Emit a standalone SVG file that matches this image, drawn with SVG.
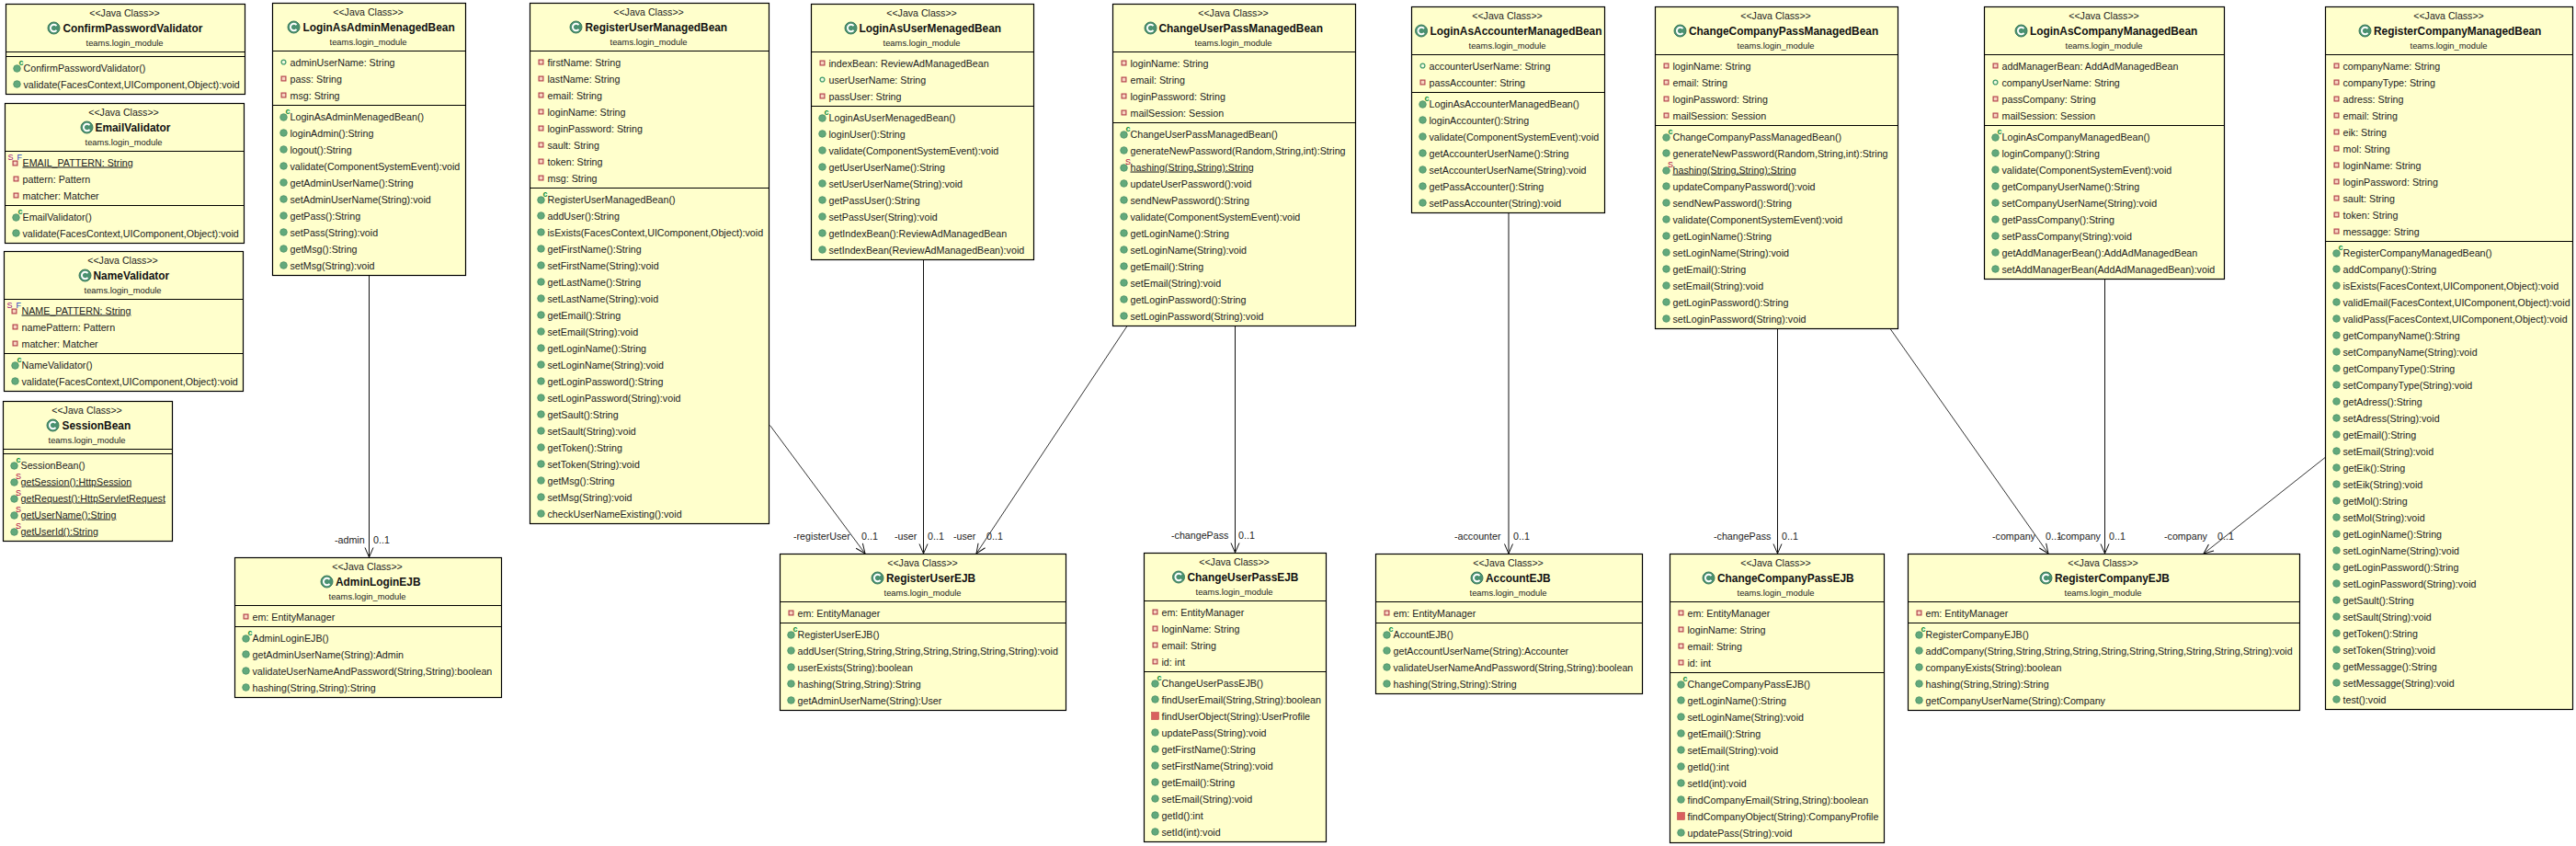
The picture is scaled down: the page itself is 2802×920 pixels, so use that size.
<svg xmlns="http://www.w3.org/2000/svg" width="2802" height="920" viewBox="0 0 2802 920">
<style>
text{font-family:"Liberation Sans",Arial,sans-serif;font-size:10.7px;fill:#222}
.b{fill:#ffffcc;stroke:#000;stroke-width:1.2}
.l{stroke:#000;stroke-width:1;fill:none}
.s{text-anchor:middle;font-size:10.6px}
.pk{text-anchor:middle;font-size:9.4px}
.t{font-size:11.9px;font-weight:bold;fill:#111}
.u{text-decoration:underline}
.sup{font-size:9px;font-weight:bold}
.c{stroke:#111;stroke-width:1;fill:none}
.d{stroke:#333;stroke-width:1;fill:none}
</style>
<defs>
<marker id="open" markerUnits="userSpaceOnUse" markerWidth="13" markerHeight="12" refX="11.5" refY="6" orient="auto"><path d="M1 1.5L11.5 6L1 10.5" fill="none" stroke="#111"/></marker>
<g id="ti"><circle r="6.5" fill="#4a9170" stroke="#3b7a5c"/><path d="M3 -2.3A3.7 3.7 0 1 0 3 2.3" fill="none" stroke="#fff" stroke-width="1.9"/></g>
<circle id="m" r="3.8" fill="#62a97c" stroke="#4a8f66" stroke-width=".8"/>
<circle id="f" r="2.4" fill="#f4fbe0" stroke="#3f9a6c" stroke-width="1.3"/>
<rect id="p" x="-2.4" y="-2.4" width="4.8" height="4.8" fill="#f6d5c0" stroke="#b5454f" stroke-width="1.2"/>
<rect id="pm" x="-4" y="-4" width="8" height="8" fill="#d9605f" stroke="#c04a4a" stroke-width=".6"/>
<g id="k"><use href="#m" y="1"/><text class="sup" x="2" y="-3" style="fill:#0a8c3c">c</text></g>
<g id="st"><use href="#m" y="1"/><text class="sup" x="1.5" y="-3" style="fill:#b00b40;font-weight:normal">S</text></g>
<g id="sf"><use href="#p" x="-1" y="1"/><text class="sup" x="-9" y="-3" style="fill:#a0107a;font-weight:normal">S</text><text class="sup" x="1" y="-3" style="fill:#2040c0;font-weight:normal">F</text></g>
</defs>
<rect width="2802" height="920" fill="#fff"/>
<g id="connectors">
<path class="c" marker-end="url(#open)" d="M401.5 299V606"/>
<path class="d" marker-end="url(#open)" d="M837.5 462.5L941 602"/>
<path class="c" marker-end="url(#open)" d="M1004.5 282V602"/>
<path class="d" marker-end="url(#open)" d="M1225.7 355L1062 602"/>
<path class="c" marker-end="url(#open)" d="M1343.5 354V601"/>
<path class="c" marker-end="url(#open)" d="M1641 231V602"/>
<path class="c" marker-end="url(#open)" d="M1933.5 357V602"/>
<path class="d" marker-end="url(#open)" d="M2056.4 358L2228 602"/>
<path class="c" marker-end="url(#open)" d="M2289.5 303V602"/>
<path class="d" marker-end="url(#open)" d="M2529 497.6L2397 602"/>
<text x="364" y="591">-admin</text><text x="406" y="591">0..1</text>
<text x="863" y="587">-registerUser</text><text x="937" y="587">0..1</text>
<text x="973" y="587">-user</text><text x="1009" y="587">0..1</text>
<text x="1037" y="587">-user</text><text x="1073" y="587">0..1</text>
<text x="1274" y="586">-changePass</text><text x="1347" y="586">0..1</text>
<text x="1582" y="587">-accounter</text><text x="1646" y="587">0..1</text>
<text x="1864" y="587">-changePass</text><text x="1938" y="587">0..1</text>
<text x="2167" y="587">-company</text><text x="2225" y="587">0..1</text>
<text x="2238" y="587">-company</text><text x="2294" y="587">0..1</text>
<text x="2354" y="587">-company</text><text x="2412" y="587">0..1</text>
</g>

<g id="ConfirmPasswordValidator" transform="translate(6.5,4.5)"><rect class="b" width="260" height="98"/><path class="l" d="M0 52H260M0 57H260"/>
<text class="s" x="129" y="13.5">&lt;&lt;Java Class&gt;&gt;</text><use href="#ti" x="52" y="26"/><text class="t" x="62" y="30">ConfirmPasswordValidator</text><text class="pk" x="129" y="45.5">teams.login_module</text>
<g transform="translate(12,0)"><use href="#k" y="69"/><use href="#m" y="87"/></g>
<g transform="translate(19,0)"><text y="73">ConfirmPasswordValidator()</text><text y="91">validate(FacesContext,UIComponent,Object):void</text></g></g>

<g id="EmailValidator" transform="translate(5.5,112.5)"><rect class="b" width="260" height="152"/><path class="l" d="M0 52H260M0 111H260"/>
<text class="s" x="129" y="13.5">&lt;&lt;Java Class&gt;&gt;</text><use href="#ti" x="89" y="26"/><text class="t" x="98" y="30">EmailValidator</text><text class="pk" x="129" y="45.5">teams.login_module</text>
<g transform="translate(12,0)"><use href="#sf" y="64"/><use href="#p" y="82"/><use href="#p" y="100"/><use href="#k" y="123"/><use href="#m" y="141"/></g>
<g transform="translate(19,0)"><text class="u" y="68">EMAIL_PATTERN: String</text><text y="86">pattern: Pattern</text><text y="104">matcher: Matcher</text><text y="127">EmailValidator()</text><text y="145">validate(FacesContext,UIComponent,Object):void</text></g></g>

<g id="NameValidator" transform="translate(4.5,273.5)"><rect class="b" width="260" height="152"/><path class="l" d="M0 52H260M0 111H260"/>
<text class="s" x="129" y="13.5">&lt;&lt;Java Class&gt;&gt;</text><use href="#ti" x="88" y="26"/><text class="t" x="97" y="30">NameValidator</text><text class="pk" x="129" y="45.5">teams.login_module</text>
<g transform="translate(12,0)"><use href="#sf" y="64"/><use href="#p" y="82"/><use href="#p" y="100"/><use href="#k" y="123"/><use href="#m" y="141"/></g>
<g transform="translate(19,0)"><text class="u" y="68">NAME_PATTERN: String</text><text y="86">namePattern: Pattern</text><text y="104">matcher: Matcher</text><text y="127">NameValidator()</text><text y="145">validate(FacesContext,UIComponent,Object):void</text></g></g>

<g id="SessionBean" transform="translate(3.5,436.5)"><rect class="b" width="184" height="152"/><path class="l" d="M0 52H184M0 57H184"/>
<text class="s" x="91" y="13.5">&lt;&lt;Java Class&gt;&gt;</text><use href="#ti" x="54" y="26"/><text class="t" x="64" y="30">SessionBean</text><text class="pk" x="91" y="45.5">teams.login_module</text>
<g transform="translate(12,0)"><use href="#k" y="69"/><use href="#st" y="87"/><use href="#st" y="105"/><use href="#st" y="123"/><use href="#st" y="141"/></g>
<g transform="translate(19,0)"><text y="73">SessionBean()</text><text class="u" y="91">getSession():HttpSession</text><text class="u" y="109">getRequest():HttpServletRequest</text><text class="u" y="127">getUserName():String</text><text class="u" y="145">getUserId():String</text></g></g>

<g id="LoginAsAdminMenagedBean" transform="translate(296.5,3.5)"><rect class="b" width="210" height="296"/><path class="l" d="M0 52H210M0 111H210"/>
<text class="s" x="104" y="13.5">&lt;&lt;Java Class&gt;&gt;</text><use href="#ti" x="23" y="26"/><text class="t" x="33" y="30">LoginAsAdminMenagedBean</text><text class="pk" x="104" y="45.5">teams.login_module</text>
<g transform="translate(12,0)"><use href="#f" y="64"/><use href="#p" y="82"/><use href="#p" y="100"/><use href="#k" y="123"/><use href="#m" y="141"/><use href="#m" y="159"/><use href="#m" y="177"/><use href="#m" y="195"/><use href="#m" y="213"/><use href="#m" y="231"/><use href="#m" y="249"/><use href="#m" y="267"/><use href="#m" y="285"/></g>
<g transform="translate(19,0)"><text y="68">adminUserName: String</text><text y="86">pass: String</text><text y="104">msg: String</text><text y="127">LoginAsAdminMenagedBean()</text><text y="145">loginAdmin():String</text><text y="163">logout():String</text><text y="181">validate(ComponentSystemEvent):void</text><text y="199">getAdminUserName():String</text><text y="217">setAdminUserName(String):void</text><text y="235">getPass():String</text><text y="253">setPass(String):void</text><text y="271">getMsg():String</text><text y="289">setMsg(String):void</text></g></g>

<g id="RegisterUserManagedBean" transform="translate(576.5,3.5)"><rect class="b" width="260" height="566"/><path class="l" d="M0 52H260M0 201H260"/>
<text class="s" x="129" y="13.5">&lt;&lt;Java Class&gt;&gt;</text><use href="#ti" x="50" y="26"/><text class="t" x="60" y="30">RegisterUserManagedBean</text><text class="pk" x="129" y="45.5">teams.login_module</text>
<g transform="translate(12,0)"><use href="#p" y="64"/><use href="#p" y="82"/><use href="#p" y="100"/><use href="#p" y="118"/><use href="#p" y="136"/><use href="#p" y="154"/><use href="#p" y="172"/><use href="#p" y="190"/><use href="#k" y="213"/><use href="#m" y="231"/><use href="#m" y="249"/><use href="#m" y="267"/><use href="#m" y="285"/><use href="#m" y="303"/><use href="#m" y="321"/><use href="#m" y="339"/><use href="#m" y="357"/><use href="#m" y="375"/><use href="#m" y="393"/><use href="#m" y="411"/><use href="#m" y="429"/><use href="#m" y="447"/><use href="#m" y="465"/><use href="#m" y="483"/><use href="#m" y="501"/><use href="#m" y="519"/><use href="#m" y="537"/><use href="#m" y="555"/></g>
<g transform="translate(19,0)"><text y="68">firstName: String</text><text y="86">lastName: String</text><text y="104">email: String</text><text y="122">loginName: String</text><text y="140">loginPassword: String</text><text y="158">sault: String</text><text y="176">token: String</text><text y="194">msg: String</text><text y="217">RegisterUserManagedBean()</text><text y="235">addUser():String</text><text y="253">isExists(FacesContext,UIComponent,Object):void</text><text y="271">getFirstName():String</text><text y="289">setFirstName(String):void</text><text y="307">getLastName():String</text><text y="325">setLastName(String):void</text><text y="343">getEmail():String</text><text y="361">setEmail(String):void</text><text y="379">getLoginName():String</text><text y="397">setLoginName(String):void</text><text y="415">getLoginPassword():String</text><text y="433">setLoginPassword(String):void</text><text y="451">getSault():String</text><text y="469">setSault(String):void</text><text y="487">getToken():String</text><text y="505">setToken(String):void</text><text y="523">getMsg():String</text><text y="541">setMsg(String):void</text><text y="559">checkUserNameExisting():void</text></g></g>

<g id="LoginAsUserMenagedBean" transform="translate(882.5,4.5)"><rect class="b" width="242" height="278"/><path class="l" d="M0 52H242M0 111H242"/>
<text class="s" x="120" y="13.5">&lt;&lt;Java Class&gt;&gt;</text><use href="#ti" x="43" y="26"/><text class="t" x="52" y="30">LoginAsUserMenagedBean</text><text class="pk" x="120" y="45.5">teams.login_module</text>
<g transform="translate(12,0)"><use href="#p" y="64"/><use href="#f" y="82"/><use href="#p" y="100"/><use href="#k" y="123"/><use href="#m" y="141"/><use href="#m" y="159"/><use href="#m" y="177"/><use href="#m" y="195"/><use href="#m" y="213"/><use href="#m" y="231"/><use href="#m" y="249"/><use href="#m" y="267"/></g>
<g transform="translate(19,0)"><text y="68">indexBean: ReviewAdManagedBean</text><text y="86">userUserName: String</text><text y="104">passUser: String</text><text y="127">LoginAsUserMenagedBean()</text><text y="145">loginUser():String</text><text y="163">validate(ComponentSystemEvent):void</text><text y="181">getUserUserName():String</text><text y="199">setUserUserName(String):void</text><text y="217">getPassUser():String</text><text y="235">setPassUser(String):void</text><text y="253">getIndexBean():ReviewAdManagedBean</text><text y="271">setIndexBean(ReviewAdManagedBean):void</text></g></g>

<g id="ChangeUserPassManagedBean" transform="translate(1210.5,4.5)"><rect class="b" width="264" height="350"/><path class="l" d="M0 52H264M0 129H264"/>
<text class="s" x="131" y="13.5">&lt;&lt;Java Class&gt;&gt;</text><use href="#ti" x="41" y="26"/><text class="t" x="50" y="30">ChangeUserPassManagedBean</text><text class="pk" x="131" y="45.5">teams.login_module</text>
<g transform="translate(12,0)"><use href="#p" y="64"/><use href="#p" y="82"/><use href="#p" y="100"/><use href="#p" y="118"/><use href="#k" y="141"/><use href="#m" y="159"/><use href="#st" y="177"/><use href="#m" y="195"/><use href="#m" y="213"/><use href="#m" y="231"/><use href="#m" y="249"/><use href="#m" y="267"/><use href="#m" y="285"/><use href="#m" y="303"/><use href="#m" y="321"/><use href="#m" y="339"/></g>
<g transform="translate(19,0)"><text y="68">loginName: String</text><text y="86">email: String</text><text y="104">loginPassword: String</text><text y="122">mailSession: Session</text><text y="145">ChangeUserPassManagedBean()</text><text y="163">generateNewPassword(Random,String,int):String</text><text class="u" y="181">hashing(String,String):String</text><text y="199">updateUserPassword():void</text><text y="217">sendNewPassword():String</text><text y="235">validate(ComponentSystemEvent):void</text><text y="253">getLoginName():String</text><text y="271">setLoginName(String):void</text><text y="289">getEmail():String</text><text y="307">setEmail(String):void</text><text y="325">getLoginPassword():String</text><text y="343">setLoginPassword(String):void</text></g></g>

<g id="LoginAsAccounterManagedBean" transform="translate(1535.5,7.5)"><rect class="b" width="210" height="224"/><path class="l" d="M0 52H210M0 93H210"/>
<text class="s" x="104" y="13.5">&lt;&lt;Java Class&gt;&gt;</text><use href="#ti" x="10.5" y="26"/><text class="t" x="20" y="30">LoginAsAccounterManagedBean</text><text class="pk" x="104" y="45.5">teams.login_module</text>
<g transform="translate(12,0)"><use href="#f" y="64"/><use href="#p" y="82"/><use href="#k" y="105"/><use href="#m" y="123"/><use href="#m" y="141"/><use href="#m" y="159"/><use href="#m" y="177"/><use href="#m" y="195"/><use href="#m" y="213"/></g>
<g transform="translate(19,0)"><text y="68">accounterUserName: String</text><text y="86">passAccounter: String</text><text y="109">LoginAsAccounterManagedBean()</text><text y="127">loginAccounter():String</text><text y="145">validate(ComponentSystemEvent):void</text><text y="163">getAccounterUserName():String</text><text y="181">setAccounterUserName(String):void</text><text y="199">getPassAccounter():String</text><text y="217">setPassAccounter(String):void</text></g></g>

<g id="ChangeCompanyPassManagedBean" transform="translate(1800.5,7.5)"><rect class="b" width="264" height="350"/><path class="l" d="M0 52H264M0 129H264"/>
<text class="s" x="131" y="13.5">&lt;&lt;Java Class&gt;&gt;</text><use href="#ti" x="27" y="26"/><text class="t" x="36.5" y="30">ChangeCompanyPassManagedBean</text><text class="pk" x="131" y="45.5">teams.login_module</text>
<g transform="translate(12,0)"><use href="#p" y="64"/><use href="#p" y="82"/><use href="#p" y="100"/><use href="#p" y="118"/><use href="#k" y="141"/><use href="#m" y="159"/><use href="#st" y="177"/><use href="#m" y="195"/><use href="#m" y="213"/><use href="#m" y="231"/><use href="#m" y="249"/><use href="#m" y="267"/><use href="#m" y="285"/><use href="#m" y="303"/><use href="#m" y="321"/><use href="#m" y="339"/></g>
<g transform="translate(19,0)"><text y="68">loginName: String</text><text y="86">email: String</text><text y="104">loginPassword: String</text><text y="122">mailSession: Session</text><text y="145">ChangeCompanyPassManagedBean()</text><text y="163">generateNewPassword(Random,String,int):String</text><text class="u" y="181">hashing(String,String):String</text><text y="199">updateCompanyPassword():void</text><text y="217">sendNewPassword():String</text><text y="235">validate(ComponentSystemEvent):void</text><text y="253">getLoginName():String</text><text y="271">setLoginName(String):void</text><text y="289">getEmail():String</text><text y="307">setEmail(String):void</text><text y="325">getLoginPassword():String</text><text y="343">setLoginPassword(String):void</text></g></g>

<g id="LoginAsCompanyManagedBean" transform="translate(2158.5,7.5)"><rect class="b" width="261" height="296"/><path class="l" d="M0 52H261M0 129H261"/>
<text class="s" x="130" y="13.5">&lt;&lt;Java Class&gt;&gt;</text><use href="#ti" x="40" y="26"/><text class="t" x="49.5" y="30">LoginAsCompanyManagedBean</text><text class="pk" x="130" y="45.5">teams.login_module</text>
<g transform="translate(12,0)"><use href="#p" y="64"/><use href="#f" y="82"/><use href="#p" y="100"/><use href="#p" y="118"/><use href="#k" y="141"/><use href="#m" y="159"/><use href="#m" y="177"/><use href="#m" y="195"/><use href="#m" y="213"/><use href="#m" y="231"/><use href="#m" y="249"/><use href="#m" y="267"/><use href="#m" y="285"/></g>
<g transform="translate(19,0)"><text y="68">addManagerBean: AddAdManagedBean</text><text y="86">companyUserName: String</text><text y="104">passCompany: String</text><text y="122">mailSession: Session</text><text y="145">LoginAsCompanyManagedBean()</text><text y="163">loginCompany():String</text><text y="181">validate(ComponentSystemEvent):void</text><text y="199">getCompanyUserName():String</text><text y="217">setCompanyUserName(String):void</text><text y="235">getPassCompany():String</text><text y="253">setPassCompany(String):void</text><text y="271">getAddManagerBean():AddAdManagedBean</text><text y="289">setAddManagerBean(AddAdManagedBean):void</text></g></g>

<g id="RegisterCompanyManagedBean" transform="translate(2529.5,7.5)"><rect class="b" width="269" height="764"/><path class="l" d="M0 52H269M0 255H269"/>
<text class="s" x="134" y="13.5">&lt;&lt;Java Class&gt;&gt;</text><use href="#ti" x="43" y="26"/><text class="t" x="52.5" y="30">RegisterCompanyManagedBean</text><text class="pk" x="134" y="45.5">teams.login_module</text>
<g transform="translate(12,0)"><use href="#p" y="64"/><use href="#p" y="82"/><use href="#p" y="100"/><use href="#p" y="118"/><use href="#p" y="136"/><use href="#p" y="154"/><use href="#p" y="172"/><use href="#p" y="190"/><use href="#p" y="208"/><use href="#p" y="226"/><use href="#p" y="244"/><use href="#k" y="267"/><use href="#m" y="285"/><use href="#m" y="303"/><use href="#m" y="321"/><use href="#m" y="339"/><use href="#m" y="357"/><use href="#m" y="375"/><use href="#m" y="393"/><use href="#m" y="411"/><use href="#m" y="429"/><use href="#m" y="447"/><use href="#m" y="465"/><use href="#m" y="483"/><use href="#m" y="501"/><use href="#m" y="519"/><use href="#m" y="537"/><use href="#m" y="555"/><use href="#m" y="573"/><use href="#m" y="591"/><use href="#m" y="609"/><use href="#m" y="627"/><use href="#m" y="645"/><use href="#m" y="663"/><use href="#m" y="681"/><use href="#m" y="699"/><use href="#m" y="717"/><use href="#m" y="735"/><use href="#m" y="753"/></g>
<g transform="translate(19,0)"><text y="68">companyName: String</text><text y="86">companyType: String</text><text y="104">adress: String</text><text y="122">email: String</text><text y="140">eik: String</text><text y="158">mol: String</text><text y="176">loginName: String</text><text y="194">loginPassword: String</text><text y="212">sault: String</text><text y="230">token: String</text><text y="248">messagge: String</text><text y="271">RegisterCompanyManagedBean()</text><text y="289">addCompany():String</text><text y="307">isExists(FacesContext,UIComponent,Object):void</text><text y="325">validEmail(FacesContext,UIComponent,Object):void</text><text y="343">validPass(FacesContext,UIComponent,Object):void</text><text y="361">getCompanyName():String</text><text y="379">setCompanyName(String):void</text><text y="397">getCompanyType():String</text><text y="415">setCompanyType(String):void</text><text y="433">getAdress():String</text><text y="451">setAdress(String):void</text><text y="469">getEmail():String</text><text y="487">setEmail(String):void</text><text y="505">getEik():String</text><text y="523">setEik(String):void</text><text y="541">getMol():String</text><text y="559">setMol(String):void</text><text y="577">getLoginName():String</text><text y="595">setLoginName(String):void</text><text y="613">getLoginPassword():String</text><text y="631">setLoginPassword(String):void</text><text y="649">getSault():String</text><text y="667">setSault(String):void</text><text y="685">getToken():String</text><text y="703">setToken(String):void</text><text y="721">getMessagge():String</text><text y="739">setMessagge(String):void</text><text y="757">test():void</text></g></g>

<g id="AdminLoginEJB" transform="translate(255.5,606.5)"><rect class="b" width="290" height="152"/><path class="l" d="M0 52H290M0 75H290"/>
<text class="s" x="144" y="13.5">&lt;&lt;Java Class&gt;&gt;</text><use href="#ti" x="100" y="26"/><text class="t" x="109.5" y="30">AdminLoginEJB</text><text class="pk" x="144" y="45.5">teams.login_module</text>
<g transform="translate(12,0)"><use href="#p" y="64"/><use href="#k" y="87"/><use href="#m" y="105"/><use href="#m" y="123"/><use href="#m" y="141"/></g>
<g transform="translate(19,0)"><text y="68">em: EntityManager</text><text y="91">AdminLoginEJB()</text><text y="109">getAdminUserName(String):Admin</text><text y="127">validateUserNameAndPassword(String,String):boolean</text><text y="145">hashing(String,String):String</text></g></g>

<g id="RegisterUserEJB" transform="translate(848.5,602.5)"><rect class="b" width="311" height="170"/><path class="l" d="M0 52H311M0 75H311"/>
<text class="s" x="155" y="13.5">&lt;&lt;Java Class&gt;&gt;</text><use href="#ti" x="106" y="26"/><text class="t" x="115.5" y="30">RegisterUserEJB</text><text class="pk" x="155" y="45.5">teams.login_module</text>
<g transform="translate(12,0)"><use href="#p" y="64"/><use href="#k" y="87"/><use href="#m" y="105"/><use href="#m" y="123"/><use href="#m" y="141"/><use href="#m" y="159"/></g>
<g transform="translate(19,0)"><text y="68">em: EntityManager</text><text y="91">RegisterUserEJB()</text><text y="109">addUser(String,String,String,String,String,String,String):void</text><text y="127">userExists(String):boolean</text><text y="145">hashing(String,String):String</text><text y="163">getAdminUserName(String):User</text></g></g>

<g id="ChangeUserPassEJB" transform="translate(1244.5,601.5)"><rect class="b" width="198" height="314"/><path class="l" d="M0 52H198M0 129H198"/>
<text class="s" x="98" y="13.5">&lt;&lt;Java Class&gt;&gt;</text><use href="#ti" x="37.5" y="26"/><text class="t" x="47" y="30">ChangeUserPassEJB</text><text class="pk" x="98" y="45.5">teams.login_module</text>
<g transform="translate(12,0)"><use href="#p" y="64"/><use href="#p" y="82"/><use href="#p" y="100"/><use href="#p" y="118"/><use href="#k" y="141"/><use href="#m" y="159"/><use href="#pm" y="177"/><use href="#m" y="195"/><use href="#m" y="213"/><use href="#m" y="231"/><use href="#m" y="249"/><use href="#m" y="267"/><use href="#m" y="285"/><use href="#m" y="303"/></g>
<g transform="translate(19,0)"><text y="68">em: EntityManager</text><text y="86">loginName: String</text><text y="104">email: String</text><text y="122">id: int</text><text y="145">ChangeUserPassEJB()</text><text y="163">findUserEmail(String,String):boolean</text><text y="181">findUserObject(String):UserProfile</text><text y="199">updatePass(String):void</text><text y="217">getFirstName():String</text><text y="235">setFirstName(String):void</text><text y="253">getEmail():String</text><text y="271">setEmail(String):void</text><text y="289">getId():int</text><text y="307">setId(int):void</text></g></g>

<g id="AccountEJB" transform="translate(1496.5,602.5)"><rect class="b" width="290" height="152"/><path class="l" d="M0 52H290M0 75H290"/>
<text class="s" x="144" y="13.5">&lt;&lt;Java Class&gt;&gt;</text><use href="#ti" x="110" y="26"/><text class="t" x="119.5" y="30">AccountEJB</text><text class="pk" x="144" y="45.5">teams.login_module</text>
<g transform="translate(12,0)"><use href="#p" y="64"/><use href="#k" y="87"/><use href="#m" y="105"/><use href="#m" y="123"/><use href="#m" y="141"/></g>
<g transform="translate(19,0)"><text y="68">em: EntityManager</text><text y="91">AccountEJB()</text><text y="109">getAccountUserName(String):Accounter</text><text y="127">validateUserNameAndPassword(String,String):boolean</text><text y="145">hashing(String,String):String</text></g></g>

<g id="ChangeCompanyPassEJB" transform="translate(1816.5,602.5)"><rect class="b" width="233" height="314"/><path class="l" d="M0 52H233M0 129H233"/>
<text class="s" x="115" y="13.5">&lt;&lt;Java Class&gt;&gt;</text><use href="#ti" x="42" y="26"/><text class="t" x="51.5" y="30">ChangeCompanyPassEJB</text><text class="pk" x="115" y="45.5">teams.login_module</text>
<g transform="translate(12,0)"><use href="#p" y="64"/><use href="#p" y="82"/><use href="#p" y="100"/><use href="#p" y="118"/><use href="#k" y="141"/><use href="#m" y="159"/><use href="#m" y="177"/><use href="#m" y="195"/><use href="#m" y="213"/><use href="#m" y="231"/><use href="#m" y="249"/><use href="#m" y="267"/><use href="#pm" y="285"/><use href="#m" y="303"/></g>
<g transform="translate(19,0)"><text y="68">em: EntityManager</text><text y="86">loginName: String</text><text y="104">email: String</text><text y="122">id: int</text><text y="145">ChangeCompanyPassEJB()</text><text y="163">getLoginName():String</text><text y="181">setLoginName(String):void</text><text y="199">getEmail():String</text><text y="217">setEmail(String):void</text><text y="235">getId():int</text><text y="253">setId(int):void</text><text y="271">findCompanyEmail(String,String):boolean</text><text y="289">findCompanyObject(String):CompanyProfile</text><text y="307">updatePass(String):void</text></g></g>

<g id="RegisterCompanyEJB" transform="translate(2075.5,602.5)"><rect class="b" width="426" height="170"/><path class="l" d="M0 52H426M0 75H426"/>
<text class="s" x="212" y="13.5">&lt;&lt;Java Class&gt;&gt;</text><use href="#ti" x="150" y="26"/><text class="t" x="159.5" y="30">RegisterCompanyEJB</text><text class="pk" x="212" y="45.5">teams.login_module</text>
<g transform="translate(12,0)"><use href="#p" y="64"/><use href="#k" y="87"/><use href="#m" y="105"/><use href="#m" y="123"/><use href="#m" y="141"/><use href="#m" y="159"/></g>
<g transform="translate(19,0)"><text y="68">em: EntityManager</text><text y="91">RegisterCompanyEJB()</text><text y="109">addCompany(String,String,String,String,String,String,String,String,String,String):void</text><text y="127">companyExists(String):boolean</text><text y="145">hashing(String,String):String</text><text y="163">getCompanyUserName(String):Company</text></g></g>
</svg>
